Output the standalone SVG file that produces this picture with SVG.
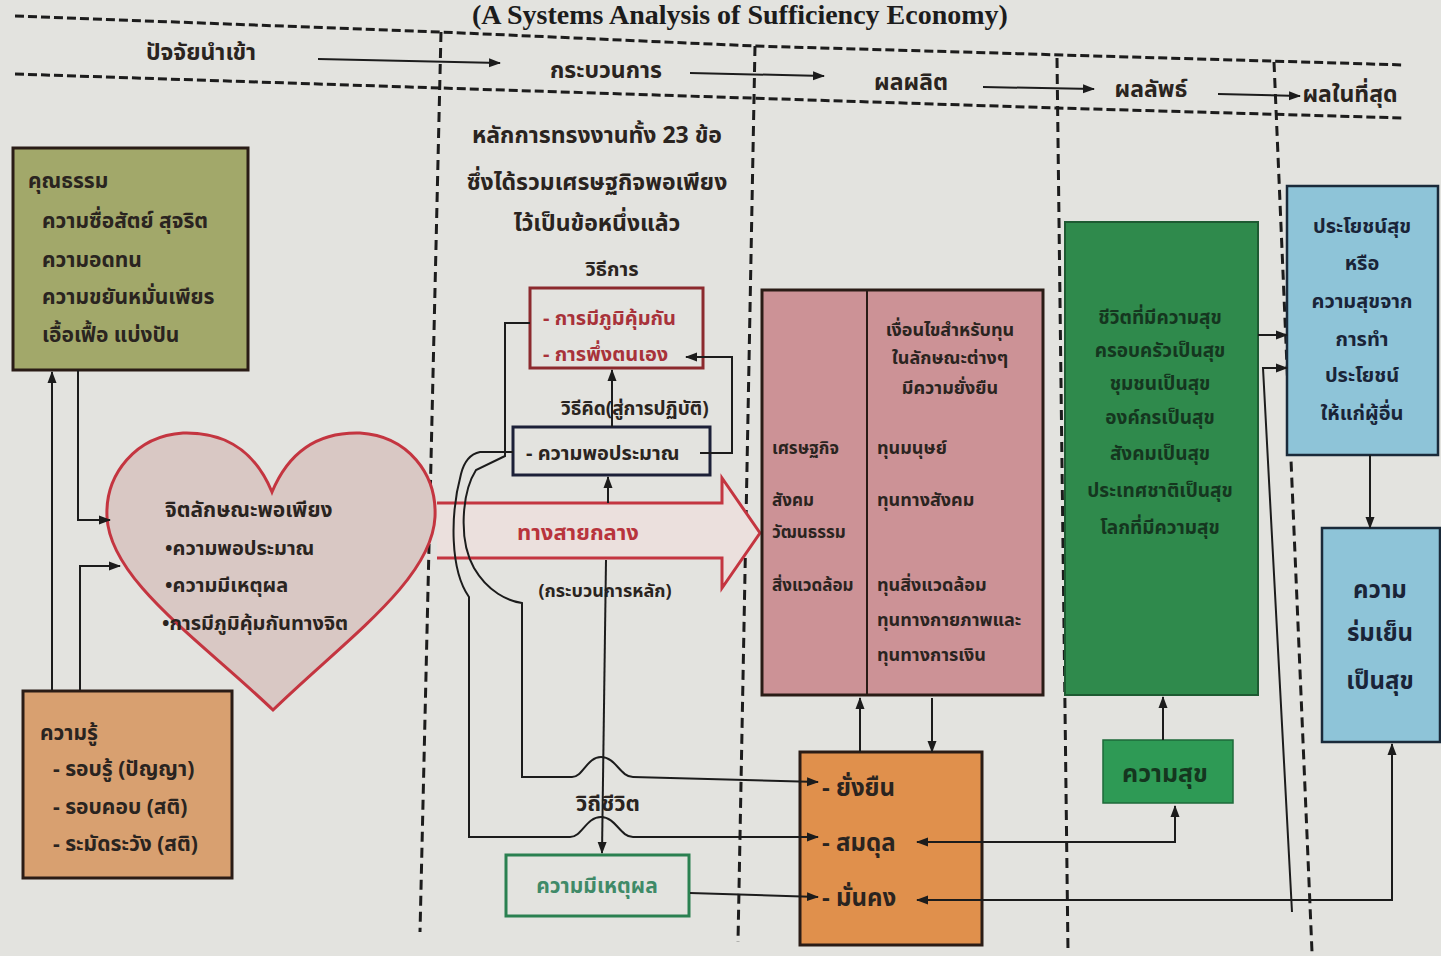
<svg xmlns="http://www.w3.org/2000/svg" width="1441" height="956" viewBox="0 0 1441 956">
<defs>
<style>
.th{font-family:'Noto Sans Thai','Noto Sans Thai UI','Loma','Garuda','Noto Sans','DejaVu Sans',sans-serif;font-weight:bold;fill:#2a2420}
.hd{font-size:23px}
.dh{stroke:#1c1c1c;stroke-width:3;stroke-dasharray:9 4;fill:none}
.dv{stroke:#1c1c1c;stroke-width:3;stroke-dasharray:10 6;fill:none}
.ln{stroke:#1c1c1c;stroke-width:2;fill:none}
.box{stroke:#2a1c16;stroke-width:3}
.gt{fill:#15361f}
.bt{fill:#1a2438}
</style>
<marker id="ah" viewBox="0 0 12 10" refX="11" refY="5" markerWidth="12" markerHeight="10" markerUnits="userSpaceOnUse" orient="auto-start-reverse"><path d="M0,0.5 L12,5 L0,9.5 z" fill="#1c1c1c"/></marker>
</defs>
<rect width="1441" height="956" fill="#e3e3df"/>

<text x="740" y="24" text-anchor="middle" font-family="'Liberation Serif',serif" font-weight="bold" font-size="28" fill="#1c1c1c">(A Systems Analysis of Sufficiency Economy)</text>

<g id="frame">
<polyline class="dh" points="15,16 440,32 755,46 1405,65"/>
<polyline class="dh" points="15,74 440,88 1057,108 1405,118"/>
<line class="dv" x1="441" y1="32" x2="420" y2="932"/>
<line class="dv" x1="755" y1="46" x2="738" y2="942"/>
<line class="dv" x1="1057" y1="58" x2="1068" y2="952"/>
<line class="dv" x1="1274" y1="62" x2="1312" y2="952"/>
</g>

<g id="header">
<text class="th hd" x="201" y="60" text-anchor="middle">ปัจจัยนำเข้า</text>
<text class="th hd" x="606" y="78" text-anchor="middle">กระบวนการ</text>
<text class="th hd" x="911" y="90" text-anchor="middle">ผลผลิต</text>
<text class="th hd" x="1151" y="97" text-anchor="middle">ผลลัพธ์</text>
<text class="th hd" x="1350" y="102" text-anchor="middle">ผลในที่สุด</text>
</g>

<g id="n-virtue">
<rect class="box" x="13" y="148" width="235" height="222" fill="#a2a86a"/>
<text class="th" font-size="21" x="28" y="188">คุณธรรม</text>
<text class="th" font-size="21" x="42" y="228">ความซื่อสัตย์ สุจริต</text>
<text class="th" font-size="21" x="42" y="267">ความอดทน</text>
<text class="th" font-size="21" x="42" y="304">ความขยันหมั่นเพียร</text>
<text class="th" font-size="21" x="42" y="342">เอื้อเฟื้อ แบ่งปัน</text>
</g>

<g id="n-knowledge">
<rect class="box" x="23" y="691" width="209" height="187" fill="#d8a070"/>
<text class="th" font-size="21" x="40" y="740">ความรู้</text>
<text class="th" font-size="21" x="53" y="776">- รอบรู้ (ปัญญา)</text>
<text class="th" font-size="21" x="53" y="814">- รอบคอบ (สติ)</text>
<text class="th" font-size="21" x="53" y="851">- ระมัดระวัง (สติ)</text>
</g>

<g id="n-heart">
<path d="M272,492 C252,444 218,432 183,433 C136,436 105,474 107,517 C110,580 200,640 273,710 C345,640 432,580 435,517 C437,474 408,436 360,433 C326,432 292,444 272,492 Z" fill="#d9c8c4" stroke="#c43540" stroke-width="3"/>
<text class="th" font-size="21" x="165" y="517">จิตลักษณะพอเพียง</text>
<text class="th" font-size="20" x="165" y="555">•ความพอประมาณ</text>
<text class="th" font-size="20" x="165" y="592">•ความมีเหตุผล</text>
<text class="th" font-size="20" x="162" y="630">•การมีภูมิคุ้มกันทางจิต</text>
</g>

<g id="n-middleway">
<path d="M437,503 H722 V478 L760,533 L722,588 V558 H437" fill="#ebe0dd" stroke="#c43540" stroke-width="3"/>
<text class="th" font-size="22" x="578" y="540" text-anchor="middle" style="fill:#b8343c">ทางสายกลาง</text>
<text class="th" font-size="18" x="605" y="597" text-anchor="middle">(กระบวนการหลัก)</text>
</g>

<g id="n-principles">
<text class="th" font-size="23" x="597" y="143" text-anchor="middle">หลักการทรงงานทั้ง 23 ข้อ</text>
<text class="th" font-size="23" x="597" y="190" text-anchor="middle">ซึ่งได้รวมเศรษฐกิจพอเพียง</text>
<text class="th" font-size="23" x="597" y="231" text-anchor="middle">ไว้เป็นข้อหนึ่งแล้ว</text>
<text class="th" font-size="20" x="612" y="276" text-anchor="middle">วิธีการ</text>
</g>

<g id="n-method">
<rect x="530" y="288" width="173" height="80" fill="none" stroke="#8c2a2e" stroke-width="3"/>
<text class="th" font-size="20" x="543" y="325" style="fill:#a8323a">- การมีภูมิคุ้มกัน</text>
<text class="th" font-size="20" x="543" y="361" style="fill:#a8323a">- การพึ่งตนเอง</text>
</g>

<text class="th" font-size="19" x="561" y="415">วิธีคิด(สู่การปฏิบัติ)</text>

<g id="n-moderation">
<rect x="513" y="427" width="197" height="48" fill="none" stroke="#1c2038" stroke-width="3"/>
<text class="th" font-size="20" x="526" y="460">- ความพอประมาณ</text>
</g>

<text class="th" font-size="22" x="608" y="811" text-anchor="middle">วิถีชีวิต</text>

<g id="n-reason">
<rect x="506" y="855" width="183" height="61" fill="none" stroke="#2a8050" stroke-width="3"/>
<text class="th" font-size="21" x="597" y="893" text-anchor="middle" style="fill:#3f8a68">ความมีเหตุผล</text>
</g>

<g id="n-capital">
<rect class="box" x="762" y="290" width="281" height="405" fill="#cc9296"/>
<line x1="867" y1="290" x2="867" y2="695" stroke="#2a1c16" stroke-width="2"/>
<text class="th" font-size="18" x="950" y="336" text-anchor="middle">เงื่อนไขสำหรับทุน</text>
<text class="th" font-size="18" x="950" y="364" text-anchor="middle">ในลักษณะต่างๆ</text>
<text class="th" font-size="18" x="950" y="394" text-anchor="middle">มีความยั่งยืน</text>
<text class="th" font-size="17" x="772" y="454">เศรษฐกิจ</text>
<text class="th" font-size="17" x="772" y="506">สังคม</text>
<text class="th" font-size="17" x="772" y="538">วัฒนธรรม</text>
<text class="th" font-size="17" x="772" y="591">สิ่งแวดล้อม</text>
<text class="th" font-size="18" x="877" y="454">ทุนมนุษย์</text>
<text class="th" font-size="18" x="877" y="506">ทุนทางสังคม</text>
<text class="th" font-size="18" x="877" y="591">ทุนสิ่งแวดล้อม</text>
<text class="th" font-size="18" x="877" y="626">ทุนทางกายภาพและ</text>
<text class="th" font-size="18" x="877" y="661">ทุนทางการเงิน</text>
</g>

<g id="n-output">
<rect class="box" x="800" y="752" width="182" height="193" fill="#e0904c"/>
<text class="th" font-size="24" x="822" y="796">- ยั่งยืน</text>
<text class="th" font-size="24" x="822" y="851">- สมดุล</text>
<text class="th" font-size="24" x="822" y="906">- มั่นคง</text>
</g>

<g id="n-happylife">
<rect x="1065" y="222" width="193" height="473" fill="#2f8a4c" stroke="#1e5a32" stroke-width="2"/>
<text class="th gt" font-size="19" x="1160" y="324" text-anchor="middle">ชีวิตที่มีความสุข</text>
<text class="th gt" font-size="19" x="1160" y="357" text-anchor="middle">ครอบครัวเป็นสุข</text>
<text class="th gt" font-size="19" x="1160" y="390" text-anchor="middle">ชุมชนเป็นสุข</text>
<text class="th gt" font-size="19" x="1160" y="424" text-anchor="middle">องค์กรเป็นสุข</text>
<text class="th gt" font-size="19" x="1160" y="460" text-anchor="middle">สังคมเป็นสุข</text>
<text class="th gt" font-size="19" x="1160" y="497" text-anchor="middle">ประเทศชาติเป็นสุข</text>
<text class="th gt" font-size="19" x="1160" y="534" text-anchor="middle">โลกที่มีความสุข</text>
</g>

<g id="n-happiness">
<rect x="1103" y="740" width="130" height="63" fill="#2e9a55" stroke="#1e6a3a" stroke-width="1.5"/>
<text class="th gt" font-size="25" x="1165" y="782" text-anchor="middle">ความสุข</text>
</g>

<g id="n-benefit">
<rect x="1287" y="186" width="151" height="269" fill="#8ec4d8" stroke="#1a2a3a" stroke-width="2.5"/>
<text class="th bt" font-size="20" x="1362" y="233" text-anchor="middle">ประโยชน์สุข</text>
<text class="th bt" font-size="20" x="1362" y="270" text-anchor="middle">หรือ</text>
<text class="th bt" font-size="20" x="1362" y="308" text-anchor="middle">ความสุขจาก</text>
<text class="th bt" font-size="20" x="1362" y="346" text-anchor="middle">การทำ</text>
<text class="th bt" font-size="20" x="1362" y="382" text-anchor="middle">ประโยชน์</text>
<text class="th bt" font-size="20" x="1362" y="420" text-anchor="middle">ให้แก่ผู้อื่น</text>
</g>

<g id="n-peace">
<rect x="1322" y="528" width="118" height="214" fill="#8ec4d8" stroke="#1a2a3a" stroke-width="2.5"/>
<text class="th bt" font-size="24" x="1380" y="598" text-anchor="middle">ความ</text>
<text class="th bt" font-size="24" x="1380" y="641" text-anchor="middle">ร่มเย็น</text>
<text class="th bt" font-size="24" x="1380" y="689" text-anchor="middle">เป็นสุข</text>
</g>

<g id="connectors">
<line class="ln" x1="318" y1="59" x2="500" y2="63" marker-end="url(#ah)"/>
<line class="ln" x1="690" y1="73" x2="824" y2="76" marker-end="url(#ah)"/>
<line class="ln" x1="983" y1="87" x2="1094" y2="89" marker-end="url(#ah)"/>
<line class="ln" x1="1218" y1="94" x2="1300" y2="96" marker-end="url(#ah)"/>
<path class="ln" d="M52,690 V372" marker-end="url(#ah)"/>
<path class="ln" d="M78,370 V520 H110" marker-end="url(#ah)"/>
<path class="ln" d="M80,690 V566 H120" marker-end="url(#ah)"/>
<path class="ln" d="M612,427 V370" marker-end="url(#ah)"/>
<path class="ln" d="M700,453 H732 V357 H686" marker-end="url(#ah)"/>
<path class="ln" d="M608,503 V477" marker-end="url(#ah)"/>
<path class="ln" d="M606,560 L602,853" marker-end="url(#ah)"/>
<path class="ln" d="M513,452 H480 C470,454 464,462 461,474 C450,515 450,570 469,597 V837 H570 C582,837 586,817 601,817 C616,817 620,837 633,837 H818" marker-end="url(#ah)"/>
<path class="ln" d="M530,323 H505 V456 L476,470 C462,492 458,540 474,568 C488,592 508,601 522,603 V777 H572 C583,777 587,757 601,757 C616,757 620,777 633,777 L818,782" marker-end="url(#ah)"/>
<path class="ln" d="M690,893 L818,897" marker-end="url(#ah)"/>
<path class="ln" d="M860,752 V698" marker-end="url(#ah)"/>
<path class="ln" d="M932,698 V752" marker-end="url(#ah)"/>
<path class="ln" d="M1175,806 V842 H917" marker-start="url(#ah)" marker-end="url(#ah)"/>
<path class="ln" d="M1392,744 V900 H917" marker-start="url(#ah)" marker-end="url(#ah)"/>
<path class="ln" d="M1163,740 V697" marker-end="url(#ah)"/>
<path class="ln" d="M1258,335 H1287" marker-end="url(#ah)"/>
<path class="ln" d="M1292,912 L1263,368 H1287" marker-end="url(#ah)"/>
<path class="ln" d="M1370,455 V528" marker-end="url(#ah)"/>
</g>
</svg>
